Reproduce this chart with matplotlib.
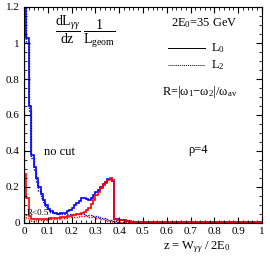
import numpy as np
import matplotlib
matplotlib.use("Agg")
import matplotlib.pyplot as plt

plt.rcParams['font.family'] = 'Liberation Serif'
plt.rcParams['mathtext.fontset'] = 'custom'
plt.rcParams['mathtext.rm'] = 'Liberation Serif'
plt.rcParams['mathtext.it'] = 'Liberation Serif:italic'

# bin edges: 0.01 wide up to 0.5, then one wide bin to 1
edges = np.append(np.arange(0, 0.501, 0.01), 1.0)

# no cut, L0 (blue solid)
blue_L0 = [1.6, 1.03, 0.65, 0.38, 0.31, 0.25, 0.20, 0.16, 0.13, 0.10,
           0.078, 0.064, 0.057, 0.054, 0.052, 0.053, 0.055, 0.058, 0.065, 0.072,
           0.085, 0.098, 0.11, 0.125, 0.138, 0.14, 0.132, 0.13, 0.14, 0.155,
           0.17, 0.185, 0.20, 0.215, 0.23, 0.242, 0.245, 0.235, 0.02, 0.02,
           0.018, 0.018, 0.015, 0.012, 0.01, 0.008, 0.006, 0.005, 0.004, 0.004,
           0.004]
# no cut, L2 (blue dotted)
blue_L2 = [1.55, 1.0, 0.62, 0.36, 0.29, 0.23, 0.18, 0.14, 0.115, 0.09,
           0.072, 0.062, 0.056, 0.053, 0.051, 0.05, 0.05, 0.05, 0.05, 0.05,
           0.05, 0.05, 0.05, 0.05, 0.048, 0.047, 0.046, 0.045, 0.043, 0.04,
           0.037, 0.033, 0.03, 0.026, 0.022, 0.018, 0.015, 0.012, 0.01, 0.008,
           0.006, 0.005, 0.004, 0.004, 0.003, 0.003, 0.003, 0.003, 0.003, 0.003,
           0.003]
# R<0.5, L0 (red solid)
red_L0 = [0.27, 0.14, 0.04, 0.022, 0.02, 0.02, 0.021, 0.022, 0.023, 0.024,
          0.025, 0.026, 0.027, 0.028, 0.03, 0.031, 0.033, 0.035, 0.037, 0.039,
          0.042, 0.045, 0.048, 0.052, 0.057, 0.063, 0.072, 0.085, 0.105, 0.13,
          0.155, 0.175, 0.195, 0.21, 0.225, 0.24, 0.25, 0.24, 0.02, 0.018,
          0.018, 0.017, 0.015, 0.012, 0.01, 0.008, 0.006, 0.005, 0.004, 0.004,
          0.004]
# R<0.5, L2 (red dotted)
red_L2 = [0.05, 0.03, 0.015, 0.012, 0.013, 0.014, 0.015, 0.016, 0.017, 0.018,
          0.02, 0.021, 0.022, 0.024, 0.025, 0.027, 0.028, 0.03, 0.031, 0.033,
          0.034, 0.035, 0.036, 0.037, 0.038, 0.038, 0.037, 0.036, 0.034, 0.032,
          0.03, 0.027, 0.024, 0.02, 0.017, 0.013, 0.01, 0.008, 0.006, 0.005,
          0.004, 0.004, 0.003, 0.003, 0.003, 0.003, 0.003, 0.003, 0.003, 0.003,
          0.003]

fig = plt.figure(figsize=(2.70, 2.62), dpi=100)
ax = fig.add_axes([24/270, 39/262, 238/270, 216/262])

ax.stairs(blue_L0, edges, color='blue', lw=1.2)
ax.stairs(blue_L2, edges, color='blue', lw=1.0, ls=(0, (1, 1)))
ax.stairs(red_L0, edges, color='red', lw=1.2)
ax.stairs(red_L2, edges, color='red', lw=1.0, ls=(0, (1, 1)))

ax.set_xlim(0, 1)
ax.set_ylim(0, 1.2)
ax.set_xticks(np.arange(0, 1.01, 0.1))
ax.set_xticklabels(['0', '0.1', '0.2', '0.3', '0.4', '0.5', '0.6', '0.7', '0.8', '0.9', '1'])
ax.set_xticks(np.arange(0, 1.01, 0.02), minor=True)
ax.set_yticks(np.arange(0, 1.21, 0.2))
ax.set_yticklabels(['0', '0.2', '0.4', '0.6', '0.8', '1', '1.2'])
ax.set_yticks(np.arange(0, 1.21, 0.05), minor=True)
ax.tick_params(which='both', direction='in', top=True, right=True, labelsize=8, pad=3)
ax.tick_params(which='major', length=4)
ax.tick_params(which='minor', length=2)

# annotations
ax.text(0.256, 0.885, r'$\dfrac{\mathrm{dL}_{\gamma\gamma}}{\mathrm{dz}}\;\dfrac{1}{\mathrm{L}_{\mathrm{geom}}}$',
        transform=ax.transAxes, ha='center', va='center', fontsize=10)
ax.text(0.76, 0.926, r'2E$_0$=35 GeV', transform=ax.transAxes, ha='center', va='center', fontsize=9)
ax.plot([0.605, 0.76], [0.81, 0.81], color='black', lw=0.7, transform=ax.transAxes)
ax.text(0.785, 0.81, r'L$_0$', transform=ax.transAxes, ha='left', va='center', fontsize=9)
ax.plot([0.605, 0.76], [0.73, 0.73], color='black', lw=0.7, ls=(0, (1, 1)), transform=ax.transAxes)
ax.text(0.785, 0.73, r'L$_2$', transform=ax.transAxes, ha='left', va='center', fontsize=9)
ax.text(0.74, 0.606, r'R=|ω$_1$$-$ω$_2$|/ω$_{\mathrm{av}}$', transform=ax.transAxes,
        ha='center', va='center', fontsize=9)
ax.text(0.084, 0.33, 'no cut', transform=ax.transAxes, ha='left', va='center', fontsize=9)
ax.text(0.73, 0.338, 'ρ=4', transform=ax.transAxes, ha='center', va='center', fontsize=9)
ax.text(0.013, 0.046, 'R<0.5', transform=ax.transAxes, ha='left', va='center', fontsize=6.5)

fig.text(0.73, 0.057, r'z = W$_{\gamma\gamma}$ / 2E$_0$', ha='center', va='center', fontsize=9)

fig.savefig('out.png', dpi=100)
